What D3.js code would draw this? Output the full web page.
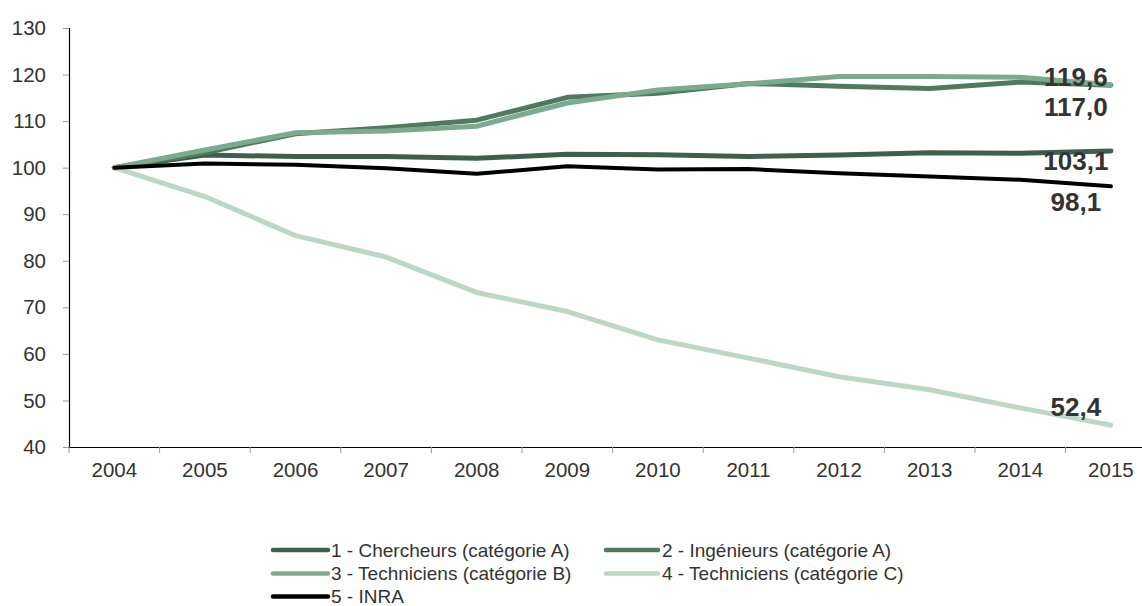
<!DOCTYPE html>
<html>
<head>
<meta charset="utf-8">
<script src="https://cdn.jsdelivr.net/npm/d3@7"></script>
<style>
  html, body { margin: 0; padding: 0; background: #fff; }
  svg { display: block; font-family: "Liberation Sans", Arial, sans-serif; }
</style>
</head>
<body>
<svg id="chart" width="1142" height="606"></svg>
<script>
// ---- data ----
const years = ["2004","2005","2006","2007","2008","2009","2010","2011","2012","2013","2014","2015"];
const seriesNames = [
  "1 - Chercheurs (catégorie A)",
  "2 - Ingénieurs (catégorie A)",
  "3 - Techniciens (catégorie B)",
  "4 - Techniciens (catégorie C)",
  "5 - INRA"
];
const chercheurs   = [100, 102.7, 102.4, 102.4, 102.0, 102.9, 102.8, 102.4, 102.7, 103.2, 103.1, 103.6];
const ingenieurs   = [100, 103.2, 107.3, 108.6, 110.2, 115.1, 116.0, 118.1, 117.5, 117.0, 118.4, 117.7];
const techniciensB = [100, 103.8, 107.5, 107.9, 108.9, 113.9, 116.7, 118.0, 119.6, 119.6, 119.4, 117.8];
const techniciensC = [100, 93.8, 85.4, 80.8, 73.2, 69.1, 63.0, 59.1, 55.1, 52.3, 48.4, 44.7];
const inra         = [100, 100.9, 100.6, 99.9, 98.7, 100.3, 99.6, 99.7, 98.8, 98.1, 97.4, 96.0];
const endLabels = ["103,1", "117,0", "119,6", "52,4", "98,1"];
const yTicks = [40, 50, 60, 70, 80, 90, 100, 110, 120, 130];

const seriesValues = [chercheurs, ingenieurs, techniciensB, techniciensC, inra];
const colors = ["#3f5f4d", "#4f7a60", "#7caa8e", "#bdd7c6", "#000000"];
const widths = [5, 5, 5, 5, 4];

// ---- layout ----
const svg = d3.select("#chart");
const x = d3.scaleBand().domain(years).range([69, 69 + 12 * 90.6]).padding(0);
const y = d3.scaleLinear().domain([40, 130]).range([447, 28]);
const cx = d => x(d) + x.bandwidth() / 2;

// y axis
const yAxis = svg.append("g").attr("transform", "translate(69,0)")
  .call(d3.axisLeft(y).tickValues(yTicks).tickSize(6).tickPadding(17).tickFormat(d3.format("d")));
yAxis.select(".domain").attr("stroke", "#000").attr("stroke-width", 1.2);
yAxis.selectAll(".tick line").attr("stroke", "#999");
yAxis.selectAll(".tick text").attr("fill", "#333").style("font-size", "20.5px");

// x axis
const xAxis = svg.append("g").attr("transform", "translate(0,447)")
  .call(d3.axisBottom(x).tickSize(0).tickSizeOuter(0).tickPadding(15));
xAxis.select(".domain").attr("stroke", "#000").attr("stroke-width", 1.2);
xAxis.selectAll(".tick text").attr("fill", "#333").style("font-size", "20.5px");
// tick marks at band boundaries
xAxis.selectAll("line.bound").data(years).enter().append("line")
  .attr("class", "bound")
  .attr("x1", d => x(d)).attr("x2", d => x(d))
  .attr("y1", 0).attr("y2", 6)
  .attr("stroke", "#999");

// lines
const line = d3.line().x((v, i) => cx(years[i])).y(v => y(v));
seriesValues.forEach((vals, i) => {
  svg.append("path").datum(vals)
    .attr("d", line)
    .attr("fill", "none")
    .attr("stroke", colors[i])
    .attr("stroke-width", widths[i])
    .attr("stroke-linejoin", "round")
    .attr("stroke-linecap", "round");
});

// end labels
const labelDy = [10, 22, -8, -18, 16];
seriesValues.forEach((vals, i) => {
  const last = vals[vals.length - 1];
  svg.append("text")
    .attr("x", cx(years[years.length - 1]) - 35)
    .attr("y", y(last) + labelDy[i])
    .attr("text-anchor", "middle")
    .attr("dominant-baseline", "central")
    .attr("fill", "#333")
    .style("font-size", "26px")
    .style("font-weight", "bold")
    .text(endLabels[i]);
});

// legend
const colLine = [[273, 328], [606, 658]];
const colText = [331, 662];
const rowY = [550, 573.5, 596.5];
seriesNames.forEach((name, i) => {
  const c = i % 2, ry = rowY[Math.floor(i / 2)];
  const g = svg.append("g");
  g.append("line")
    .attr("x1", colLine[c][0]).attr("x2", colLine[c][1])
    .attr("y1", ry).attr("y2", ry)
    .attr("stroke", colors[i]).attr("stroke-width", 4.5)
    .attr("stroke-linecap", "round");
  g.append("text")
    .attr("x", colText[c]).attr("y", ry)
    .attr("dominant-baseline", "central")
    .attr("fill", "#333")
    .style("font-size", "19px")
    .text(name);
});
</script>
</body>
</html>
